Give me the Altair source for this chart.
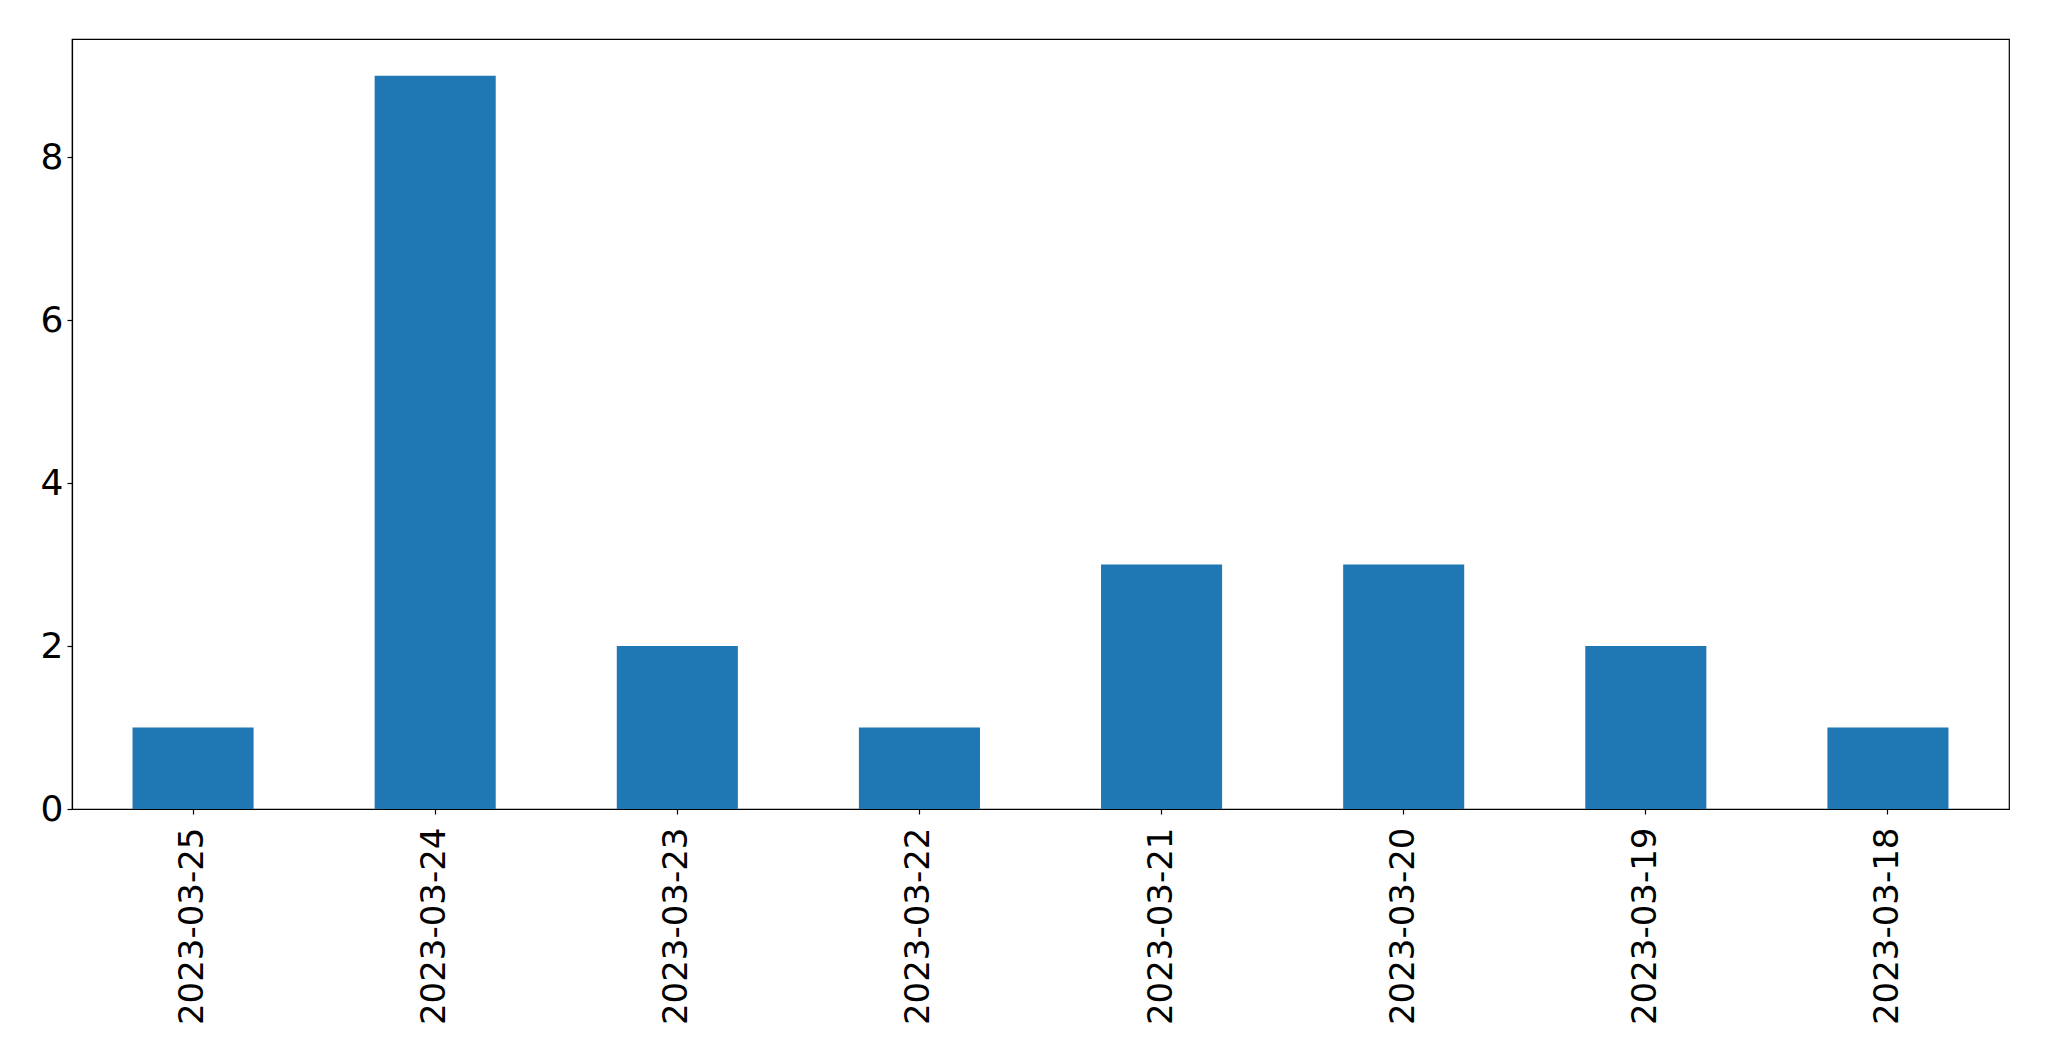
import altair as alt
import pandas as pd

dates = ["2023-03-25", "2023-03-24", "2023-03-23", "2023-03-22",
         "2023-03-21", "2023-03-20", "2023-03-19", "2023-03-18"]
counts = [1, 9, 2, 1, 3, 3, 2, 1]
y_ticks = [0, 2, 4, 6, 8]

df = pd.DataFrame({"date": dates, "count": counts})

chart = alt.Chart(df).mark_bar(color="#1f77b4").encode(
    x=alt.X("date:N", sort=None,
            scale=alt.Scale(paddingInner=0.5, paddingOuter=0.25),
            axis=alt.Axis(title=None, labelAngle=270, labelAlign="right",
                          labelBaseline="middle", labelFontSize=34,
                          labelFont="DejaVu Sans", labelColor="black",
                          labelPadding=13, labelLimit=1000, tickSize=5,
                          tickColor="black", domainColor="black", grid=False)),
    y=alt.Y("count:Q", scale=alt.Scale(domain=[0, 9.45], nice=False),
            axis=alt.Axis(title=None, values=y_ticks, labelFontSize=36,
                          labelFont="DejaVu Sans", labelColor="black",
                          labelPadding=4, tickSize=5, tickColor="black",
                          domainColor="black", grid=False)),
).properties(
    width=1937, height=770,
    autosize=alt.AutoSizeParams(type="none"),
    padding={"left": 64, "top": 31, "right": 30, "bottom": 240},
).configure_view(stroke="black", strokeWidth=1.2).configure_axis(domainWidth=1.2, tickWidth=1.2)

chart.save("out.html", embed_options={"renderer": "svg", "actions": False})
